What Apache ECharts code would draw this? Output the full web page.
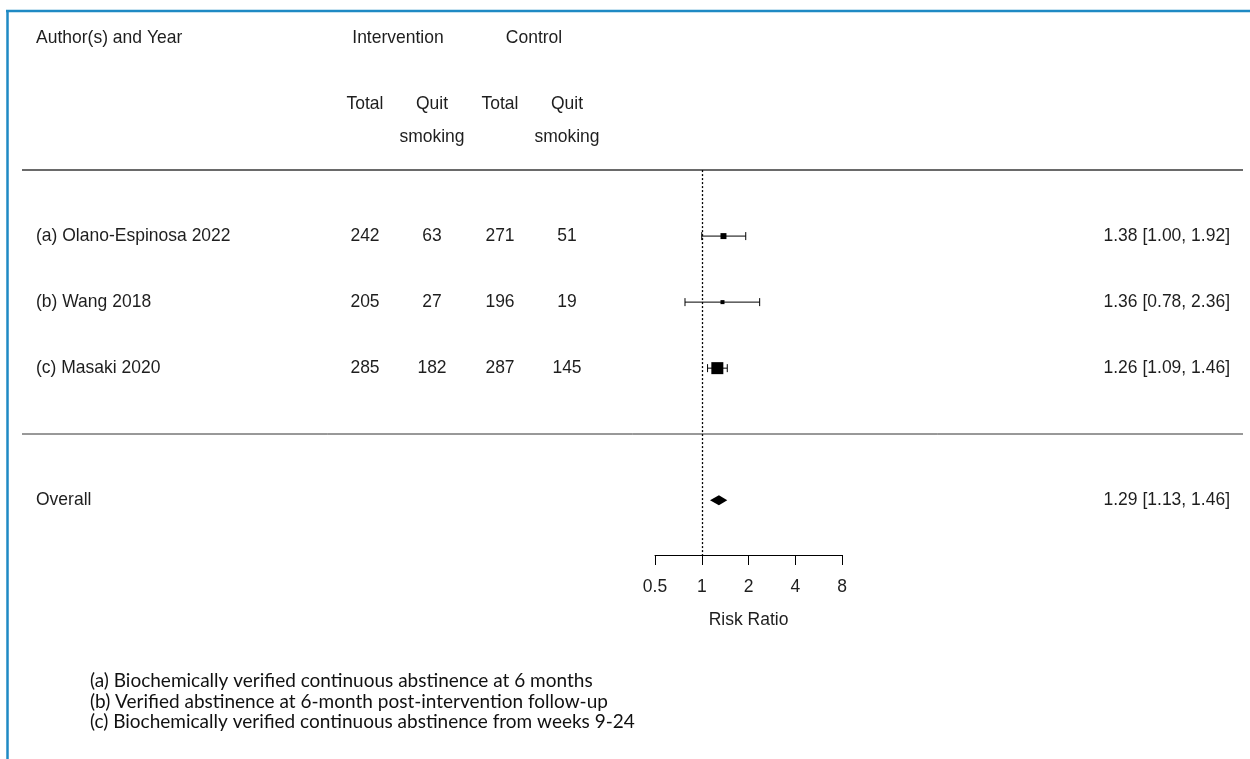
<!doctype html>
<html lang="en">
<head>
<meta charset="UTF-8" />
<title>Forest plot - quit smoking</title>
<style>
  html, body { margin: 0; padding: 0; background: #fff; }
  #chart { width: 1250px; height: 759px; }
</style>
</head>
<body>
<div id="chart"></div>
<script src="https://cdn.jsdelivr.net/npm/echarts@6/dist/echarts.min.js"></script>
<script type="text/javascript">
// data
var studies = ['(a) Olano-Espinosa 2022', '(b) Wang 2018', '(c) Masaki 2020'];
var intTotal = [242, 205, 285];
var intQuit = [63, 27, 182];
var ctlTotal = [271, 196, 287];
var ctlQuit = [51, 19, 145];
var rr = [1.38, 1.36, 1.26];
var rrLow = [1.00, 0.78, 1.09];
var rrHigh = [1.92, 2.36, 1.46];
var overallLabel = 'Overall';
var overallRR = [1.29, 1.13, 1.46]; // estimate, lower, upper
var xTicks = [0.5, 1, 2, 4, 8];
var footnotes = [
  '(a) Biochemically verified continuous abstinence at 6 months',
  '(b) Verified abstinence at 6-month post-intervention follow-up',
  '(c) Biochemically verified continuous abstinence from weeks 9-24'
];

var FONT = '"Liberation Sans", Arial, sans-serif';
var FS = 17.5;
var TXT = '#1e1e1e';

// row layout (y axis units, one unit per study row)
var studyRows = [3, 2, 1];
var overallRow = -1;
var yMin = -1.83, yMax = 6.5;

// column layout (pixels)
var colName = 36, colIT = 365, colIQ = 432, colCT = 500, colCQ = 567, colRight = 1230;

// square size from inverse-variance weight
var wts = studies.map(function (s, i) {
  var v = 1 / intQuit[i] - 1 / intTotal[i] + 1 / ctlQuit[i] - 1 / ctlTotal[i];
  return Math.sqrt(1 / v);
});
var wMin = Math.min.apply(null, wts), wMax = Math.max.apply(null, wts);
var boxSize = wts.map(function (w) { return 4 + 8 * (w - wMin) / (wMax - wMin); });

function fmt(a, b, c) {
  return a.toFixed(2) + ' [' + b.toFixed(2) + ', ' + c.toFixed(2) + ']';
}

// table texts: [x, row, text, align]
var texts = [
  [colName, 6, 'Author(s) and Year', 'left'],
  [398, 6, 'Intervention', 'center'],
  [534, 6, 'Control', 'center'],
  [colIT, 5, 'Total', 'center'],
  [colIQ, 5, 'Quit', 'center'],
  [colIQ, 4.5, 'smoking', 'center'],
  [colCT, 5, 'Total', 'center'],
  [colCQ, 5, 'Quit', 'center'],
  [colCQ, 4.5, 'smoking', 'center']
];
studies.forEach(function (s, i) {
  var r = studyRows[i];
  texts.push([colName, r, s, 'left']);
  texts.push([colIT, r, String(intTotal[i]), 'center']);
  texts.push([colIQ, r, String(intQuit[i]), 'center']);
  texts.push([colCT, r, String(ctlTotal[i]), 'center']);
  texts.push([colCQ, r, String(ctlQuit[i]), 'center']);
  texts.push([colRight, r, fmt(rr[i], rrLow[i], rrHigh[i]), 'right']);
});
texts.push([colName, overallRow, overallLabel, 'left']);
texts.push([colRight, overallRow, fmt(overallRR[0], overallRR[1], overallRR[2]), 'right']);

var chart = echarts.init(document.getElementById('chart'));

var option = {
  animation: false,
  backgroundColor: '#fff',
  grid: [
    { left: 655, width: 187, top: 5, bottom: 204 },
    { left: 0, right: 0, top: 5, bottom: 204 }
  ],
  xAxis: [
    {
      gridIndex: 0, type: 'log', logBase: 2, min: xTicks[0], max: xTicks[xTicks.length - 1],
      axisLine: { onZero: false, lineStyle: { color: '#000', width: 1 } },
      axisTick: { length: 10, lineStyle: { color: '#000', width: 1 } },
      axisLabel: {
        margin: 23, fontSize: FS, color: TXT, fontFamily: FONT,
        formatter: function (v) { return String(+v.toFixed(2)); }
      },
      splitLine: { show: false },
      name: 'Risk Ratio', nameLocation: 'middle', nameGap: 56,
      nameTextStyle: { fontSize: FS, color: TXT, fontFamily: FONT }
    },
    { gridIndex: 1, type: 'value', min: 0, max: 1250, show: false }
  ],
  yAxis: [
    { gridIndex: 0, type: 'value', min: yMin, max: yMax, show: false },
    { gridIndex: 1, type: 'value', min: yMin, max: yMax, show: false }
  ],
  series: [
    {
      // table text
      type: 'custom', xAxisIndex: 1, yAxisIndex: 1, silent: true, clip: false,
      data: texts,
      renderItem: function (params, api) {
        var d = texts[params.dataIndex];
        var p = api.coord([d[0], d[1]]);
        return {
          type: 'text',
          x: p[0], y: p[1], scaleY: 1.06,
          style: {
            x: 0, y: 0, text: d[2], align: d[3], verticalAlign: 'middle',
            fill: TXT, font: FS + 'px ' + FONT
          }
        };
      }
    },
    {
      // separators
      type: 'custom', xAxisIndex: 1, yAxisIndex: 1, silent: true, clip: false,
      data: [[22, 1243, 4], [22, 1243, 0]],
      renderItem: function (params, api) {
        var a = api.coord([api.value(0), api.value(2)]);
        var b = api.coord([api.value(1), api.value(2)]);
        var first = params.dataIndex === 0;
        return {
          type: 'line',
          shape: { x1: a[0], y1: Math.round(a[1]), x2: b[0], y2: Math.round(b[1]) },
          style: { stroke: first ? '#6a6a6a' : '#333', lineWidth: first ? 2 : 1 }
        };
      }
    },
    {
      // reference line at RR = 1
      type: 'custom', xAxisIndex: 0, yAxisIndex: 0, silent: true, clip: false,
      data: [[1, 4, yMin]],
      renderItem: function (params, api) {
        var a = api.coord([api.value(0), api.value(1)]);
        var b = api.coord([api.value(0), api.value(2)]);
        var x = Math.round(a[0]) + 0.5;
        return {
          type: 'line',
          shape: { x1: x, y1: a[1], x2: x, y2: b[1] },
          style: { stroke: '#000', lineWidth: 1.3, lineDash: [2, 2] }
        };
      }
    },
    {
      // study estimates with CI
      type: 'custom', xAxisIndex: 0, yAxisIndex: 0, silent: true, clip: false,
      encode: { x: [0, 1, 2], y: 3 },
      data: studies.map(function (s, i) { return [rr[i], rrLow[i], rrHigh[i], studyRows[i]]; }),
      renderItem: function (params, api) {
        var row = api.value(3);
        var pE = api.coord([api.value(0), row]);
        var pL = api.coord([api.value(1), row]);
        var pH = api.coord([api.value(2), row]);
        var s = boxSize[params.dataIndex];
        var cap = 4;
        var st = { stroke: '#000', lineWidth: 1 };
        return {
          type: 'group',
          children: [
            { type: 'line', shape: { x1: pL[0], y1: pL[1], x2: pH[0], y2: pH[1] }, style: st },
            { type: 'line', shape: { x1: pL[0], y1: pL[1] - cap, x2: pL[0], y2: pL[1] + cap }, style: st },
            { type: 'line', shape: { x1: pH[0], y1: pH[1] - cap, x2: pH[0], y2: pH[1] + cap }, style: st },
            { type: 'rect', shape: { x: pE[0] - s / 2, y: pE[1] - s / 2, width: s, height: s }, style: { fill: '#000' } }
          ]
        };
      }
    },
    {
      // pooled estimate diamond
      type: 'custom', xAxisIndex: 0, yAxisIndex: 0, silent: true, clip: false,
      encode: { x: [0, 1, 2], y: 3 },
      data: [[overallRR[0], overallRR[1], overallRR[2], overallRow]],
      renderItem: function (params, api) {
        var row = api.value(3);
        var pE = api.coord([api.value(0), row]);
        var pL = api.coord([api.value(1), row]);
        var pH = api.coord([api.value(2), row]);
        var h = 5;
        return {
          type: 'polygon',
          shape: { points: [[pL[0], pL[1]], [pE[0], pE[1] - h], [pH[0], pH[1]], [pE[0], pE[1] + h]] },
          style: { fill: '#000' }
        };
      }
    }
  ],
  graphic: [
    { type: 'line', shape: { x1: 6, y1: 11, x2: 1250, y2: 11 }, style: { stroke: '#1f8ac4', lineWidth: 2.5 } },
    { type: 'line', shape: { x1: 7.5, y1: 10, x2: 7.5, y2: 759 }, style: { stroke: '#1f8ac4', lineWidth: 2.5 } }
  ].concat(footnotes.map(function (t, i) {
    return {
      type: 'text', x: 90, y: 681 + i * 20.5,
      style: { text: t, fill: '#111', font: '19px Lato, "Open Sans", sans-serif', verticalAlign: 'middle' }
    };
  }))
};

chart.setOption(option);
</script>
</body>
</html>
